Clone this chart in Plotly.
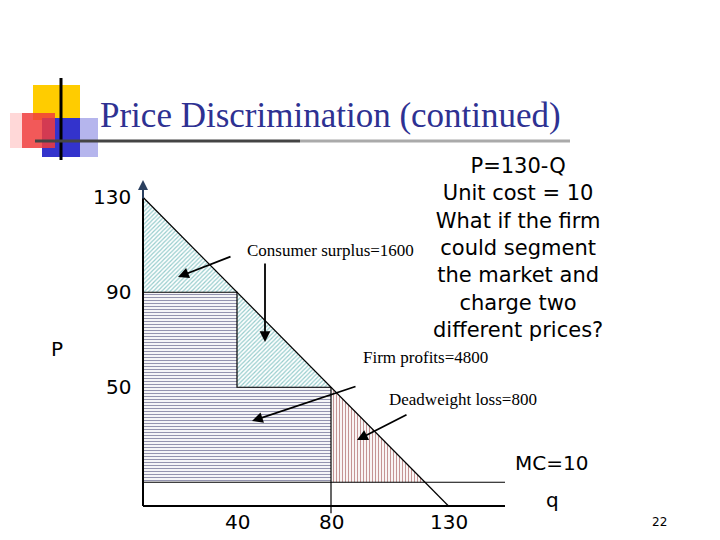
import plotly.graph_objects as go

demand_intercept = 130
mc = 10
prices = [90, 50]
quantities = [40, 80]
q_comp = 120
y_ticks = [130, 90, 50]
x_ticks = [40, 80, 130]
cs_label = "Consumer surplus=1600"
fp_label = "Firm profits=4800"
dwl_label = "Deadweight loss=800"
notes = ["P=130-Q", "Unit cost = 10", "What if the firm", "could segment", "the market and", "charge two", "different prices?"]

OFF = 8
X0, SX, Y0, SY = 143 - OFF, 2.35, 506 - OFF, 2.375
def dx(px): return (px - OFF - X0) / SX
def dy(py): return (Y0 - (py - OFF)) / SY
def pxp(px): return (px - OFF) / 720
def pyp(py): return 1 - (py - OFF) / 540

fig = go.Figure()
p1, p2 = prices; q1, q2 = quantities
serif = "Liberation Serif"; sans = "DejaVu Sans"

def poly(xs, ys, color, shape):
    fig.add_trace(go.Scatter(x=xs, y=ys, fill="toself", mode="lines", line=dict(width=0),
        fillcolor="white", fillpattern=dict(shape=shape, fgcolor=color, bgcolor="white", size=3, solidity=0.4),
        hoverinfo="skip", showlegend=False))

poly([0, 0, q1, 0], [demand_intercept, p1, p1, demand_intercept], "#2E9A9A", "/")
poly([q1, q1, q2, q1], [p1, p2, p2, p1], "#2E9A9A", "/")
poly([0, 0, q1, q1, q2, q2, 0], [mc, p1, p1, p2, p2, mc, mc], "#2A2A60", "-")
poly([q2, q2, q_comp, q2], [p2, mc, mc, p2], "#8B2A2A", "|")

def line(xs, ys, w=1.2):
    fig.add_trace(go.Scatter(x=xs, y=ys, mode="lines", line=dict(color="black", width=w),
                             hoverinfo="skip", showlegend=False))
line([0, demand_intercept], [demand_intercept, 0])
line([0, q1, q1, q2], [p1, p1, p2, p2])
line([q2, q2], [p2, -3])
line([0, dx(505)], [mc, mc])
line([0, 0], [0, demand_intercept], 2)
line([0, dx(505)], [0, 0], 2)

ann = []
ann.append(dict(x=0, y=dy(180), ax=0, ay=dy(200), xref="x", yref="y", axref="x", ayref="y",
                showarrow=True, arrowhead=2, arrowsize=1, arrowwidth=2, text=""))
for v in y_ticks:
    ann.append(dict(x=dx(133), y=v, text=str(v), showarrow=False, xanchor="right",
                    font=dict(family=sans, size=20, color="black")))
for v in x_ticks:
    ann.append(dict(x=v, y=dy(522), text=str(v), showarrow=False,
                    font=dict(family=sans, size=20, color="black")))
ann.append(dict(x=dx(57), y=dy(349), text="P", showarrow=False, font=dict(family=sans, size=20, color="black")))
ann.append(dict(x=dx(552), y=dy(500), text="q", showarrow=False, font=dict(family=sans, size=20, color="black")))
ann.append(dict(x=dx(551), y=dy(463), text="MC=10", showarrow=False, font=dict(family=sans, size=20, color="black")))
ann.append(dict(x=dx(330), y=dy(250), text=cs_label, showarrow=False, font=dict(family=serif, size=17, color="black")))
ann.append(dict(x=dx(425), y=dy(357), text=fp_label, showarrow=False, font=dict(family=serif, size=17, color="black")))
ann.append(dict(x=dx(463), y=dy(399), text=dwl_label, showarrow=False, font=dict(family=serif, size=17, color="black")))
for (hx, hy, tx, ty) in [(178, 277, 232, 256), (265, 342, 265, 262), (252, 421, 357, 386), (357, 440, 408, 414)]:
    ann.append(dict(x=dx(hx), y=dy(hy), ax=dx(tx), ay=dy(ty), xref="x", yref="y", axref="x", ayref="y",
                    showarrow=True, arrowhead=2, arrowsize=1.2, arrowwidth=1.8, arrowcolor="black", text=""))
ann.append(dict(x=pxp(605), y=pyp(248), xref="paper", yref="paper", yanchor="middle", text="<br>".join(notes),
                showarrow=False, align="center", font=dict(family=sans, size=21, color="black")))
ann.append(dict(x=pxp(98), y=pyp(116), xref="paper", yref="paper", xanchor="left", yanchor="middle",
                text="Price Discrimination (continued)",
                showarrow=False, font=dict(family=serif, size=35, color="#2E3192")))
ann.append(dict(x=pxp(669), y=pyp(522), xref="paper", yref="paper", yanchor="middle", text="22", showarrow=False,
                font=dict(family=sans, size=12, color="black")))

shapes = []
def rect(x0, y0, x1, y1, color):
    shapes.append(dict(type="rect", xref="paper", yref="paper", x0=pxp(x0), x1=pxp(x1), y0=pyp(y1), y1=pyp(y0),
                       fillcolor=color, line=dict(width=0), layer="below"))
rect(33, 85, 80, 120, "#FFCC00")
rect(42, 118, 80, 157, "#3333CC")
rect(80, 118, 98, 157, "rgba(150,150,230,0.7)")
rect(22, 113, 55, 148, "rgba(240,60,60,0.85)")
rect(10, 113, 22, 148, "rgba(255,200,200,0.7)")
shapes.append(dict(type="line", xref="paper", yref="paper", x0=pxp(61), x1=pxp(61), y0=pyp(78), y1=pyp(160),
                   line=dict(color="black", width=3), layer="below"))
shapes.append(dict(type="line", xref="paper", yref="paper", x0=pxp(35), x1=pxp(300), y0=pyp(141), y1=pyp(141),
                   line=dict(color="#444444", width=3), layer="below"))
shapes.append(dict(type="line", xref="paper", yref="paper", x0=pxp(300), x1=pxp(570), y0=pyp(141), y1=pyp(141),
                   line=dict(color="#aaaaaa", width=3), layer="below"))

fig.update_layout(width=720, height=540, margin=dict(l=0, r=0, t=0, b=0),
                  paper_bgcolor="white", plot_bgcolor="white",
                  xaxis=dict(range=[dx(OFF), dx(720 + OFF)], visible=False, fixedrange=True),
                  yaxis=dict(range=[dy(540 + OFF), dy(OFF)], visible=False, fixedrange=True),
                  annotations=ann, shapes=shapes)
fig.write_html("out.html")
